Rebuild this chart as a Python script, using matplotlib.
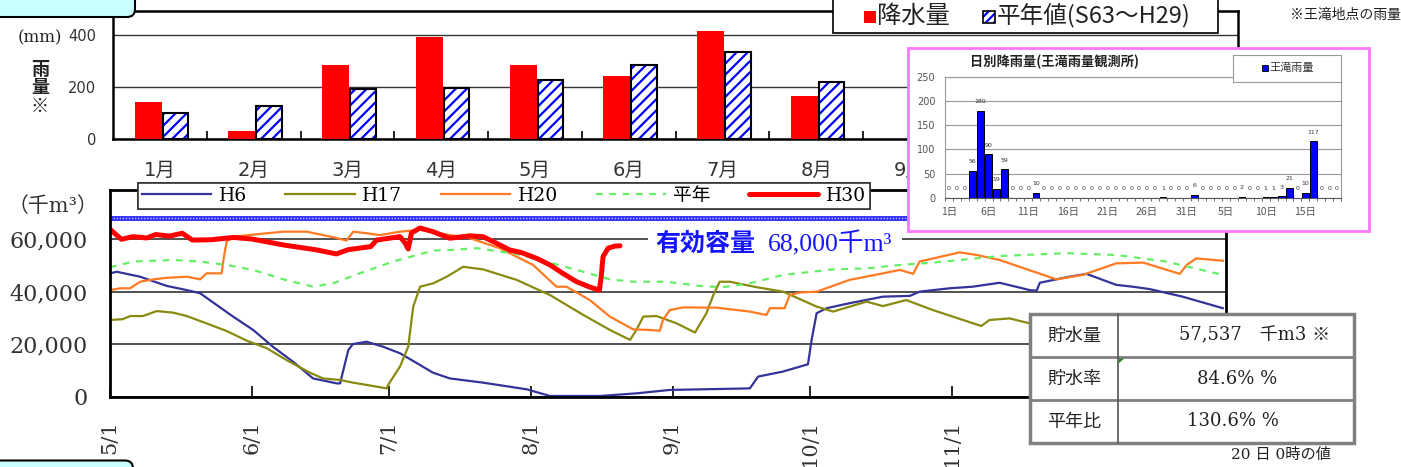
import numpy as np
import matplotlib.pyplot as plt
from matplotlib.patches import Rectangle, FancyBboxPatch, Polygon

plt.rcParams['font.family'] = ['DejaVu Serif', 'Noto Sans CJK JP']
plt.rcParams['hatch.linewidth'] = 1.6
plt.rcParams['axes.linewidth'] = 1.8

JP = ['Noto Sans CJK JP', 'DejaVu Sans']

# ---- monthly rainfall (mm) ----
months = ['1月', '2月', '3月', '4月', '5月', '6月', '7月', '8月', '9月', '', '', '']
rain_2018 = [140, 32, 282, 390, 282, 243, 415, 165]
rain_normal = [99, 127, 192, 196, 226, 285, 333, 217]
rain_labels = ['降水量', '平年値(S63〜H29)']

# ---- storage (千m3), x = days since 5/1 ----
h6_day = [0, 1.5, 6.6, 12.4, 16.8, 19.7, 26.9, 31.3, 35.6, 40, 44.4, 49.6, 50.3, 52.1, 53.1, 56.1, 59.7,
          63.4, 67.8, 70.6, 74.3, 81.5, 91.1, 96.2, 107.1, 115.1, 122.4, 139.9, 141.7, 147.1, 152.6,
          153.4, 154.5, 156.7, 161.7, 169, 174.9, 177, 183.6, 188.6, 194.5, 201.1, 202.6, 203.3,
          209.1, 213.5, 220, 223.6, 227.3, 234.5, 243.3]
h6_val = [47000, 47600, 45700, 42200, 40600, 39400, 30500, 25400, 19000, 13300, 6900, 5000, 5000,
          17700, 20000, 20900, 19000, 16500, 12000, 9100, 6900, 5300, 2750, 200, 200, 1200, 2500,
          3100, 7600, 9500, 12300, 21600, 31800, 33700, 35600, 38100, 38400, 40000, 41300, 41900,
          43400, 40600, 40400, 43400, 45500, 46800, 42600, 41900, 41000, 38100, 33700]

h17_day = [0, 2.8, 4.4, 7.2, 10.2, 13.8, 16.8, 21.1, 25.5, 29.9, 34.3, 38.6, 43.7, 46.6, 50.3, 53.1,
           57.5, 60.5, 60.8, 63.4, 65.2, 66.3, 67.8, 70.7, 73.6, 74.3, 77.2, 81.6, 88.9, 96.2, 103.5,
           109.3, 113.7, 115.1, 116.6, 119.5, 123.9, 127.9, 130.4, 131.9, 133.3, 135.5, 141.4,
           147.2, 154.5, 158.1, 165.4, 169, 174.1, 179.9, 190.5, 192.3, 196.7, 201.1]
h17_val = [29200, 29500, 30700, 30700, 32600, 32000, 30700, 27900, 25000, 21300, 18400, 13900, 9100,
           6900, 6300, 5300, 4000, 3100, 4400, 11400, 19000, 34300, 41900, 43200, 45700, 46400,
           49500, 48500, 44500, 38700, 31100, 25400, 21600, 25400, 30500, 30700, 27900, 24400,
           31800, 38700, 43800, 43800, 41700, 40000, 34300, 32400, 36200, 34500, 36800, 33000,
           26900, 29200, 29800, 27900]

h20_day = [0, 2.2, 4.4, 6.6, 9.5, 12.4, 16.8, 19.7, 21.1, 24.4, 24.8, 25.5, 27, 34.3, 37.9, 43, 48.8,
           51.7, 53.2, 56.1, 59, 63.4, 67.8, 74.3, 78.7, 85.2, 92.5, 97.6, 99.8, 104.9, 109.3, 114.4,
           118, 120.2, 120.9, 122.4, 125.3, 132.6, 139.9, 143.5, 144.3, 147.5, 148.6, 150.8, 154.5,
           161.7, 169, 172.7, 175.6, 177, 185.8, 189.5, 194.5, 206.9, 212.7, 220, 225.9, 233.9,
           235.4, 237.5, 243.3]
h20_val = [40600, 41300, 41300, 43800, 44700, 45300, 45700, 44700, 47000, 47000, 52100, 59100, 61000,
           62300, 62900, 62900, 60800, 59500, 62900, 62300, 61600, 62900, 63600, 61600, 60400,
           56600, 50200, 41900, 41900, 36800, 30500, 25600, 25400, 25100, 29200, 33000, 34000,
           33900, 32400, 31100, 33700, 33700, 38700, 39700, 40000, 44500, 47000, 48300, 46800,
           51500, 55000, 54000, 52100, 44700, 46400, 50800, 51100, 46800, 50200, 52700, 51800]

avg_day = [0, 5.1, 13.8, 19.7, 25.5, 31.3, 37.9, 44.4, 48.8, 54.6, 61.9, 70.7, 74.3, 80.1, 88.9, 96.2,
           103.5, 109.3, 114.4, 121.6, 128.9, 134, 139.9, 147.2, 158.1, 165.4, 172.7, 180, 194.5,
           209.1, 220, 230.9, 243.3]
avg_val = [49300, 51500, 52100, 51500, 50200, 48300, 44700, 41900, 43200, 47000, 51500, 55700, 55900,
           56600, 54400, 51100, 47600, 44700, 43800, 43800, 42200, 41700, 43200, 46400, 48500,
           48900, 50200, 51100, 53600, 54700, 54000, 51500, 46400]

h30_day = [0, 2.5, 5, 8, 10, 13, 15.8, 18, 22, 27, 31, 38, 45, 49.5, 52, 57, 58.3, 63.4, 64.5, 65.2,
           65.9, 67.8, 70.6, 74.3, 78.7, 81.5, 84.5, 87.4, 90, 93.3, 96.2, 99, 102, 105, 107, 107.4,
           107.8, 108.9, 110.4, 111.5]
h30_val = [63800, 60000, 61000, 60500, 61800, 61200, 62300, 59700, 59800, 60700, 60100, 57800, 56000,
           54400, 56000, 57200, 59700, 61000, 58600, 56300, 62400, 64300, 62900, 60400, 61300,
           61000, 58500, 55900, 54900, 52700, 50200, 47000, 43800, 41700, 40600, 45700, 53400,
           56600, 57400, 57500]

capacity = 68000
date_ticks = [0, 31, 61, 92, 123, 153, 184, 214]
date_labels = ['5/1', '6/1', '7/1', '8/1', '9/1', '10/1', '11/1', '']

# ---- daily rainfall 7/1 - 8/19 (mm) ----
daily_rain = [0, 0, 0, 56, 180, 90, 19, 59, 0, 0, 0, 10,
              0, 0, 0, 0, 0, 0, 0, 0, 0, 0, 0, 0, 0, 0, 0,
              1, 0, 0, 0, 6, 0, 0, 0, 0, 0, 2, 0, 0,
              1, 1, 3, 21, 0, 10, 117, 0, 0, 0]
daily_ticklabels = ['1日', '6日', '11日', '16日', '21日', '26日', '31日', '5日', '10日', '15日']

table_rows = ['貯水量', '貯水率', '平年比']
table_vals = ['57,537　千m3 ※', '84.6% %', '130.6% %']

W, H = 1401, 467
def fx(x): return x / W
def fy(y): return 1 - y / H

fig = plt.figure(figsize=(W / 100, H / 100), dpi=100)

# ================= top: monthly rainfall =================
ax1 = fig.add_axes([fx(113), fy(139), (1238 - 113) / W, (139 - 11) / H])
xm = np.arange(len(months))
n = len(rain_2018)
ax1.bar(xm[:n] - 0.125, rain_2018, width=0.29, color='#ff0000', zorder=3)
ax1.bar(xm[:n] + 0.165, rain_normal, width=0.27, facecolor='white', edgecolor='#0000ff',
        hatch='///', lw=0, zorder=3)
ax1.bar(xm[:n] + 0.165, rain_normal, width=0.27, fill=False, edgecolor='black', lw=1.5, zorder=4)
ax1.set_xlim(-0.5, 11.5)
ax1.set_ylim(0, 490)
ax1.set_yticks([0, 200, 400])
ax1.set_yticklabels(['0', '200', '400'], fontfamily='DejaVu Sans', fontsize=10.5, color='#333333')
ax1.yaxis.grid(True, color='#333333', lw=1)
ax1.set_axisbelow(True)
ax1.set_xticks(xm)
ax1.set_xticklabels(months, fontfamily=['DejaVu Sans', 'Noto Sans CJK JP'], fontsize=14, color='#333333')
ax1.set_xticks(np.arange(0.5, 11.5, 1), minor=True)
ax1.tick_params(axis='x', which='major', length=0, pad=16)
ax1.tick_params(axis='x', which='minor', direction='in', length=6, width=1.2)
ax1.tick_params(axis='y', length=0, pad=12)

# ================= bottom: storage =================
ax2 = fig.add_axes([fx(110), fy(396.5), (1226 - 110) / W, (396.5 - 190) / H])
ax2.set_xlim(0, 244)
ax2.set_ylim(0, 78800)
ax2.set_yticks([0, 20000, 40000, 60000])
ax2.set_yticklabels(['0', '20,000', '40,000', '60,000'], fontsize=16, color='#333333')
ax2.yaxis.grid(True, color='#333333', lw=1.2)
ax2.set_axisbelow(True)
ax2.set_xticks(date_ticks)
ax2.set_xticklabels(date_labels, rotation=90, fontsize=15, color='#333333')
ax2.tick_params(axis='x', direction='in', length=8, width=1.2, pad=17)
ax2.tick_params(axis='y', length=0, pad=16)
for s in ax2.spines.values():
    s.set_linewidth(2)

ax2.axhline(capacity, color='#2b2bff', lw=3.5, zorder=2)
ax2.axhline(capacity, color='#c8c8ff', lw=1, ls=(0, (1, 1.2)), zorder=2)
l_h6, = ax2.plot(h6_day, h6_val, color='#333399', lw=1.6)
l_h17, = ax2.plot(h17_day, h17_val, color='#8a8a10', lw=1.6)
l_h20, = ax2.plot(h20_day, h20_val, color='#ff7a20', lw=1.6)
l_avg, = ax2.plot(avg_day, avg_val, color='#66ee66', lw=1.6, ls=(0, (3, 3)))
l_h30, = ax2.plot(h30_day, h30_val, color='#ff0000', lw=3.6, solid_capstyle='round')

# ================= inset: daily rainfall =================
frame = fig.add_axes([fx(908), fy(231), (1369 - 908) / W, (231 - 48) / H], zorder=10)
frame.set_xticks([])
frame.set_yticks([])
for s in frame.spines.values():
    s.set_color('#ff77ff')
    s.set_linewidth(2)

ax3 = fig.add_axes([fx(945), fy(197.7), (1341 - 945) / W, (197.7 - 77) / H], zorder=11)
dd = np.arange(len(daily_rain))
ax3.bar(dd, daily_rain, width=0.82, color='#0000ff', edgecolor='black', lw=0.7, zorder=3)
for i, v in enumerate(daily_rain):
    ax3.annotate(str(v), (i, v), xytext=(0, 9), textcoords='offset pixels',
                 ha='center', va='center', fontsize=4.5, fontfamily='DejaVu Sans', color='#333333')
ax3.set_xlim(-0.5, len(daily_rain) - 0.5)
ax3.set_ylim(0, 250)
ax3.set_yticks(range(0, 251, 50))
ax3.set_yticklabels([str(v) for v in range(0, 251, 50)], fontfamily='DejaVu Sans', fontsize=7, color='#555555')
ax3.yaxis.grid(True, color='#999999', lw=0.8)
ax3.set_axisbelow(True)
ax3.set_xticks(range(0, len(daily_rain), 5))
ax3.set_xticklabels(daily_ticklabels, fontfamily=JP, fontsize=7.5, color='#555555')
ax3.set_xticks(np.arange(-0.5, len(daily_rain), 1), minor=True)
ax3.tick_params(axis='x', which='major', length=0, pad=7)
ax3.tick_params(axis='x', which='minor', direction='out', length=2.5, width=0.6, color='#555555')
ax3.tick_params(axis='y', length=0, pad=7)
for s in ax3.spines.values():
    s.set_color('#999999')
    s.set_linewidth(0.8)
ax3.spines['bottom'].set_color('#555555')

# ================= overlay (pixel coords) =================
ov = fig.add_axes([0, 0, 1, 1], zorder=20)
ov.set_xlim(0, W)
ov.set_ylim(H, 0)
ov.axis('off')
ov.patch.set_alpha(0)

# header tabs
ov.add_patch(FancyBboxPatch((-20, -30), 155, 47, boxstyle='round,pad=0,rounding_size=8',
                            fc='#c9ffff', ec='black', lw=1.5))
ov.add_patch(FancyBboxPatch((-20, 460.5), 153, 40, boxstyle='round,pad=0,rounding_size=8',
                            fc='#c9ffff', ec='black', lw=1.5))

# top chart labels / legend
ov.text(62, 38, '(mm)', fontsize=12, ha='right', va='center', color='#222222')
ov.text(40, 88, '雨\n量\n※', fontsize=13, fontfamily=JP, fontweight='bold', ha='center', va='center',
        linespacing=0.95, color='#222222')
ov.add_patch(Rectangle((833, -3), 385, 36, fc='white', ec='black', lw=1.2))
ov.add_patch(Rectangle((864, 11), 12, 12, fc='#ff0000', ec='none'))
ov.text(877, 16, rain_labels[0], fontsize=17.5, fontfamily=JP, va='center', color='#222222')
ov.add_patch(Rectangle((983, 11), 12, 12, fc='white', ec='#0000ff', hatch='////', lw=0))
ov.add_patch(Rectangle((983, 11), 12, 12, fill=False, ec='black', lw=1.2))
ov.text(997, 16, rain_labels[1], fontsize=17, fontfamily=JP, va='center', color='#222222')
ov.text(1290, 15, '※王滝地点の雨量', fontsize=10, fontfamily=JP, va='center', color='#222222')

# bottom chart labels / legend
ov.text(8, 206, '（千m³）', fontsize=15, ha='left', va='center', color='#333333')
leg2 = ov.legend([l_h6, l_h17, l_h20, l_avg, l_h30], ['H6', 'H17', 'H20', '平年', 'H30'], ncol=5,
                 loc='upper left', bbox_to_anchor=(138, 183), bbox_transform=ov.transData,
                 borderaxespad=0, fontsize=13.5, handlelength=3.7, handletextpad=0.4,
                 columnspacing=2.05, fancybox=False, edgecolor='#333333', framealpha=1, borderpad=0.2)
leg2.get_frame().set_linewidth(1.2)
ov.add_artist(leg2)

ov.add_patch(Rectangle((648, 231), 254, 26, fc='white', ec='none'))
ov.text(655, 244, '有効容量', fontsize=18, fontfamily=JP, fontweight='bold', color='#1414ff', va='center')
ov.text(768, 244, '68,000千m³', fontsize=18.5, fontfamily=['Liberation Serif', 'Noto Sans CJK JP'],
        color='#1414ff', va='center')

# inset title and legend
ov.text(1054, 62, '日別降雨量(王滝雨量観測所)', fontsize=9.5, fontfamily=JP, fontweight='bold',
        ha='center', va='center', color='#222222')
ov.add_patch(Rectangle((1233, 55), 108, 27, fc='white', ec='#999999', lw=0.8))
ov.add_patch(Rectangle((1262, 65), 6, 6, fc='#0000ff', ec='black', lw=0.6))
ov.text(1269, 68.5, '王滝雨量', fontsize=8, fontfamily=JP, va='center', color='#333333')

# storage table
tx0, tx1, tcol = 1030, 1354, 1118
row_top = [314, 357, 400]
row_h = 43
ov.add_patch(Rectangle((tx0, 314), tx1 - tx0, 3 * row_h, fc='white', ec='#808080', lw=2.5))
for yy in row_top[1:]:
    ov.plot([tx0, tx1], [yy, yy], color='#808080', lw=2)
ov.plot([tcol, tcol], [314, 314 + 3 * row_h], color='#555555', lw=1.2)
ov.add_patch(Polygon([[tcol + 1, 358], [tcol + 7, 358], [tcol + 1, 363]], fc='#1a8a1a', ec='none'))
val_cx = [1255, 1237, 1233]
for yy, name, val, cx in zip(row_top, table_rows, table_vals, val_cx):
    ov.text((tx0 + tcol) / 2, yy + row_h / 2, name, fontsize=13, fontfamily=JP,
            ha='center', va='center', color='#222222')
    ov.text(cx, yy + row_h / 2, val, fontsize=13, ha='center', va='center', color='#222222')
ov.text(1231, 455, '20 日 0時の値', fontsize=11, va='center', color='#222222')

fig.savefig('out.png', dpi=100)
